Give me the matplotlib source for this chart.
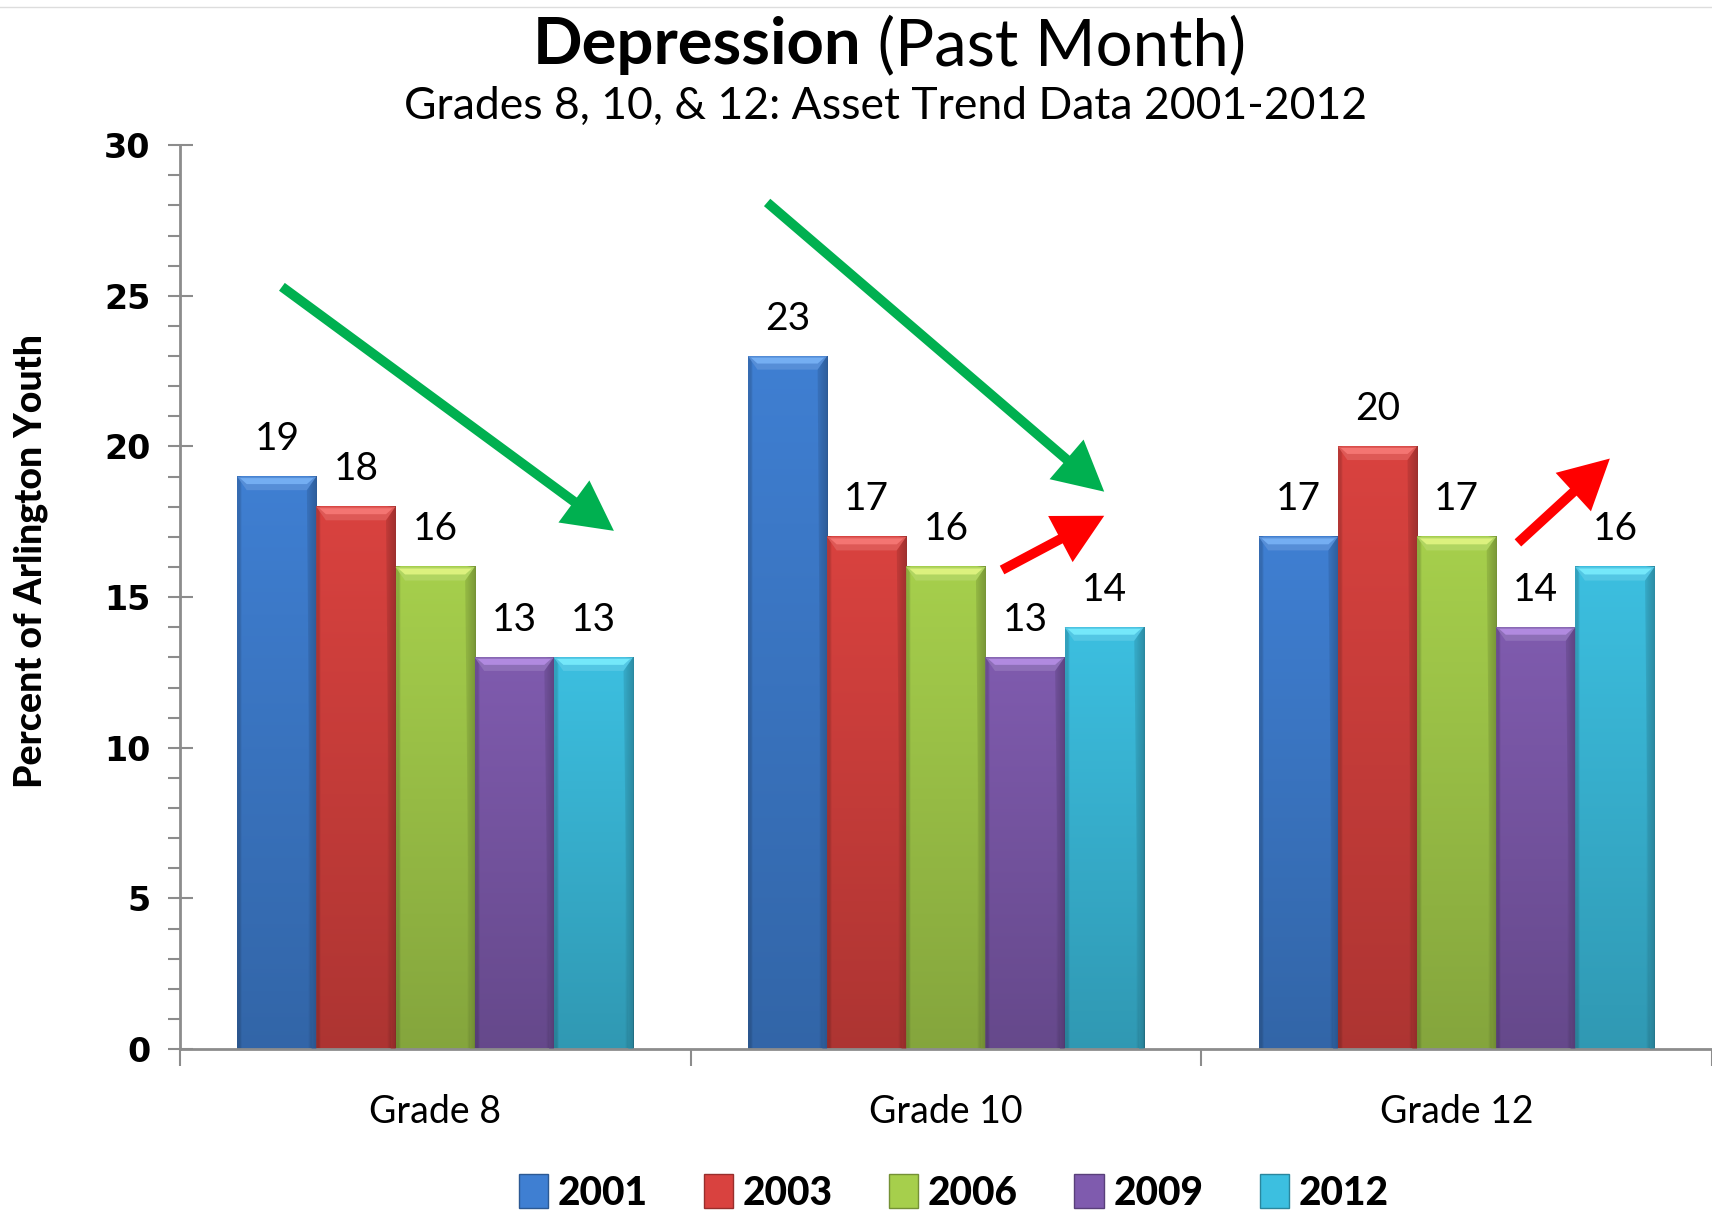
import numpy as np
import matplotlib.pyplot as plt
from matplotlib.colors import to_rgb
from matplotlib.patches import FancyArrowPatch, Patch, Polygon
from matplotlib.lines import Line2D
from matplotlib.ticker import MultipleLocator

grades = ["Grade 8", "Grade 10", "Grade 12"]
years = ["2001", "2003", "2006", "2009", "2012"]
pct_2001 = [19, 23, 17]
pct_2003 = [18, 17, 20]
pct_2006 = [16, 16, 17]
pct_2009 = [13, 13, 14]
pct_2012 = [13, 14, 16]
series = [pct_2001, pct_2003, pct_2006, pct_2009, pct_2012]

colors = ["#3F7FD2", "#D9423F", "#A6CF4C", "#7F5BAE", "#3CBFE0"]
caps = ["#74AEF2", "#F47572", "#DCF17E", "#B18AE0", "#74E8FA"]

# trend arrows: (start, end, colour) in data coordinates
arrows = [((-0.30, 25.3), (0.35, 17.2), "#00B050"),
          ((0.65, 28.1), (1.31, 18.5), "#00B050"),
          ((1.11, 15.9), (1.31, 17.7), "#FF0000"),
          ((2.12, 16.8), (2.30, 19.6), "#FF0000")]

narrow = ["Lato", "DejaVu Sans"]
wide = ["DejaVu Sans"]

fig = plt.figure(figsize=(17.12, 12.10), dpi=100)
ax = fig.add_axes([0.105, 0.133, 0.895, 0.747])

width = 0.155
x = np.arange(len(grades))


def shade(c, f):
    r = np.array(to_rgb(c))
    if f < 1:
        return r * f
    return r + (1 - r) * (f - 1)


def draw_bar(x0, h, color, cap):
    # body with vertical/horizontal shading
    nx, ny = 40, 60
    hor = np.ones(nx)
    hor[:2] = 0.85
    hor[-4:] = np.linspace(0.92, 0.72, 4)
    ver = np.linspace(0.80, 1.0, ny)[:, None]
    base = np.array(to_rgb(color))
    img = base[None, None, :] * (ver[:, :, None] * hor[None, :, None])
    img = np.clip(img, 0, 1)
    ax.imshow(img, extent=(x0, x0 + width, 0, h), origin="lower",
              aspect="auto", zorder=2, interpolation="bilinear")
    # bevelled top
    ch = 0.45
    ins = width * 0.12
    ax.add_patch(Polygon([(x0, h), (x0 + width, h), (x0 + width - ins, h - ch),
                          (x0 + ins, h - ch)], closed=True,
                         facecolor=shade(color, 1.12), edgecolor="none", zorder=3))
    ax.add_patch(Polygon([(x0 + ins * 0.3, h - 0.05), (x0 + width - ins * 0.3, h - 0.05),
                          (x0 + width - ins, h - ch * 0.55), (x0 + ins, h - ch * 0.55)],
                         closed=True, facecolor=cap, edgecolor="none", zorder=3))
    ax.add_patch(Polygon([(x0 + width - ins, h - ch), (x0 + width, h),
                          (x0 + width, 0), (x0 + width - ins * 0.5, 0)], closed=True,
                         facecolor=shade(color, 0.78), edgecolor="none", alpha=0.5, zorder=3))


for i, (vals, col, cap) in enumerate(zip(series, colors, caps)):
    for g, v in enumerate(vals):
        x0 = x[g] - 2.5 * width + i * width
        draw_bar(x0, v, col, cap)
        ax.text(x0 + width / 2, v + 0.65, str(v), ha="center", va="bottom",
                fontsize=28, family=narrow, zorder=5)

for (x1, y1), (x2, y2), c in arrows:
    ax.add_patch(FancyArrowPatch((x1, y1), (x2, y2), arrowstyle="-|>,head_length=0.95,head_width=0.5",
                                 mutation_scale=26, linewidth=7, color=c, zorder=6,
                                 shrinkA=0, shrinkB=0, capstyle="butt", joinstyle="miter"))

ax.set_xlim(-0.5, 2.5)
ax.set_ylim(0, 30)

for s in ["top", "right"]:
    ax.spines[s].set_visible(False)
for s in ["left", "bottom"]:
    ax.spines[s].set_color("#8C8C8C")
    ax.spines[s].set_linewidth(2)

ax.yaxis.set_major_locator(MultipleLocator(5))
ax.yaxis.set_minor_locator(MultipleLocator(1))
ax.tick_params(axis="y", which="major", direction="inout", length=18, width=1.5,
               color="#8C8C8C", pad=12)
ax.tick_params(axis="y", which="minor", direction="out", length=9, width=1.5, color="#8C8C8C")
for lab in ax.get_yticklabels():
    lab.set_fontsize(24)
    lab.set_fontweight("bold")
    lab.set_family(wide)

ax.set_xticks([-0.5, 0.5, 1.5, 2.5])
ax.set_xticklabels([])
ax.xaxis.set_minor_locator(plt.FixedLocator(x))
ax.set_xticklabels(grades, minor=True, fontsize=27, family=narrow)
ax.tick_params(axis="x", which="major", direction="out", length=12, width=1.5, color="#8C8C8C")
ax.tick_params(axis="x", which="minor", length=0, pad=32)

ax.set_ylabel("Percent of Arlington Youth", fontsize=27, fontweight="black",
              family=narrow)
ax.yaxis.set_label_coords(-0.086, 0.54)

fig.text(0.503, 0.962, "Depression", ha="right", va="center", fontsize=47,
         fontweight="bold", family=["Lato", "DejaVu Sans"])
fig.text(0.503, 0.962, " (Past Month)", ha="left", va="center", fontsize=47,
         family=["Lato", "DejaVu Sans"])
fig.text(0.517, 0.912, "Grades 8, 10, & 12: Asset Trend Data 2001-2012", ha="center",
         va="center", fontsize=32, family=["Lato", "DejaVu Sans"])

fig.add_artist(Line2D([0, 1], [0.994, 0.994], color="#DDDDDD", linewidth=1))

handles = [Patch(facecolor=c, edgecolor=shade(c, 0.7)) for c in colors]
leg = fig.legend(handles, years, loc="center", bbox_to_anchor=(0.557, 0.014), ncol=5,
                 frameon=False, handlelength=0.75, handleheight=0.95, handletextpad=0.25,
                 columnspacing=1.45, prop={"family": narrow, "weight": "black", "size": 28})

fig.savefig("out.png", dpi=100)
